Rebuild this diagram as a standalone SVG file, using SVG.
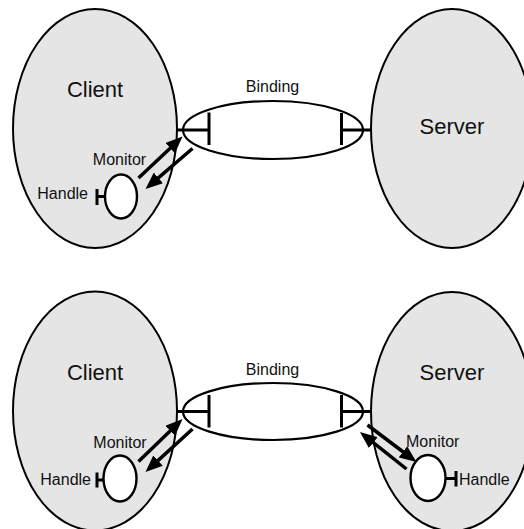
<svg xmlns="http://www.w3.org/2000/svg" width="524" height="529" viewBox="0 0 524 529">
  <style>
    .party { fill: #e5e5e5; stroke: #000; stroke-width: 2; }
    .binding { fill: #fff; stroke: #000; stroke-width: 2.2; }
    .monitor { fill: #fff; stroke: #000; stroke-width: 2.4; }
    .tee { stroke: #000; stroke-width: 3; fill: none; }
    .flow { stroke: #000; stroke-width: 3.5; fill: none; marker-end: url(#head); }
    text { font-family: "Liberation Sans", Arial, Helvetica, sans-serif; fill: #111; }
    .big { font-size: 22px; text-anchor: middle; }
    .small { font-size: 16px; }
    .mid { text-anchor: middle; }
    .end { text-anchor: end; }
  </style>
  <defs>
    <marker id="head" markerUnits="userSpaceOnUse" markerWidth="17" markerHeight="14" refX="12" refY="7" orient="auto">
      <path d="M0,0 L17,7 L0,14 z" fill="#000"/>
    </marker>
  </defs>

  <rect width="524" height="529" fill="#fff"/>

  <!-- upper scenario: client with monitor, plain server -->
  <g id="client-1">
    <ellipse class="party" cx="95" cy="128.5" rx="82" ry="119.5"/>
    <text class="big" x="95" y="97">Client</text>
  </g>
  <g id="server-1">
    <ellipse class="party" cx="452" cy="128.5" rx="81" ry="119.5"/>
    <text class="big" x="452" y="134">Server</text>
  </g>
  <g id="binding-1">
    <ellipse class="binding" cx="273" cy="130" rx="90" ry="29"/>
    <text class="small mid" x="272.5" y="92">Binding</text>
  </g>
  <g id="monitor-1">
    <ellipse class="monitor" cx="121" cy="196.5" rx="16" ry="22"/>
    <text class="small mid" x="119.5" y="165">Monitor</text>
    <path class="tee" d="M97,196.5 H105 M97,189 V205"/>
    <text class="small end" x="88" y="199">Handle</text>
  </g>

  <!-- lower scenario: monitors on both sides -->
  <g id="client-2">
    <ellipse class="party" cx="95" cy="411" rx="82" ry="119.5"/>
    <text class="big" x="95" y="380">Client</text>
  </g>
  <g id="server-2">
    <ellipse class="party" cx="452" cy="411.5" rx="81" ry="119.5"/>
    <text class="big" x="452" y="380">Server</text>
  </g>
  <g id="binding-2">
    <ellipse class="binding" cx="273" cy="411.5" rx="90" ry="28.5"/>
    <text class="small mid" x="272.5" y="375">Binding</text>
  </g>
  <g id="monitor-2">
    <ellipse class="monitor" cx="120" cy="478.5" rx="16.5" ry="23"/>
    <text class="small mid" x="120" y="447.5">Monitor</text>
    <path class="tee" d="M97,480 H103.5 M97,472.5 V487.5"/>
    <text class="small end" x="91" y="485">Handle</text>
  </g>
  <g id="monitor-3">
    <ellipse class="monitor" cx="428" cy="478" rx="17.5" ry="23"/>
    <text class="small" x="406" y="447">Monitor</text>
    <path class="tee" d="M445.5,478.5 H456 M456,471 V486.5"/>
    <text class="small" x="459" y="485">Handle</text>
  </g>

  <g id="connectors">
    <!-- binding end points -->
    <path class="tee" d="M176,130 H209 M209,112.5 V145"/>
    <path class="tee" d="M341.5,113 V145 M341.5,130 H371.5"/>
    <path class="tee" d="M176,411.5 H209 M209,395 V427.5"/>
    <path class="tee" d="M341.5,395 V427.5 M341.5,411.5 H371.5"/>
    <!-- monitor flows, upper -->
    <line class="flow" x1="138.5" y1="178" x2="178.9" y2="139.9"/>
    <line class="flow" x1="192.5" y1="148.5" x2="149.3" y2="185.7"/>
    <!-- monitor flows, lower client -->
    <line class="flow" x1="138.5" y1="461.5" x2="178.9" y2="422.5"/>
    <line class="flow" x1="192.5" y1="429" x2="149.2" y2="468.6"/>
    <!-- monitor flows, lower server -->
    <line class="flow" x1="367.5" y1="425" x2="412.5" y2="459"/>
    <line class="flow" x1="406.5" y1="469" x2="363.9" y2="435.1"/>
  </g>
</svg>
